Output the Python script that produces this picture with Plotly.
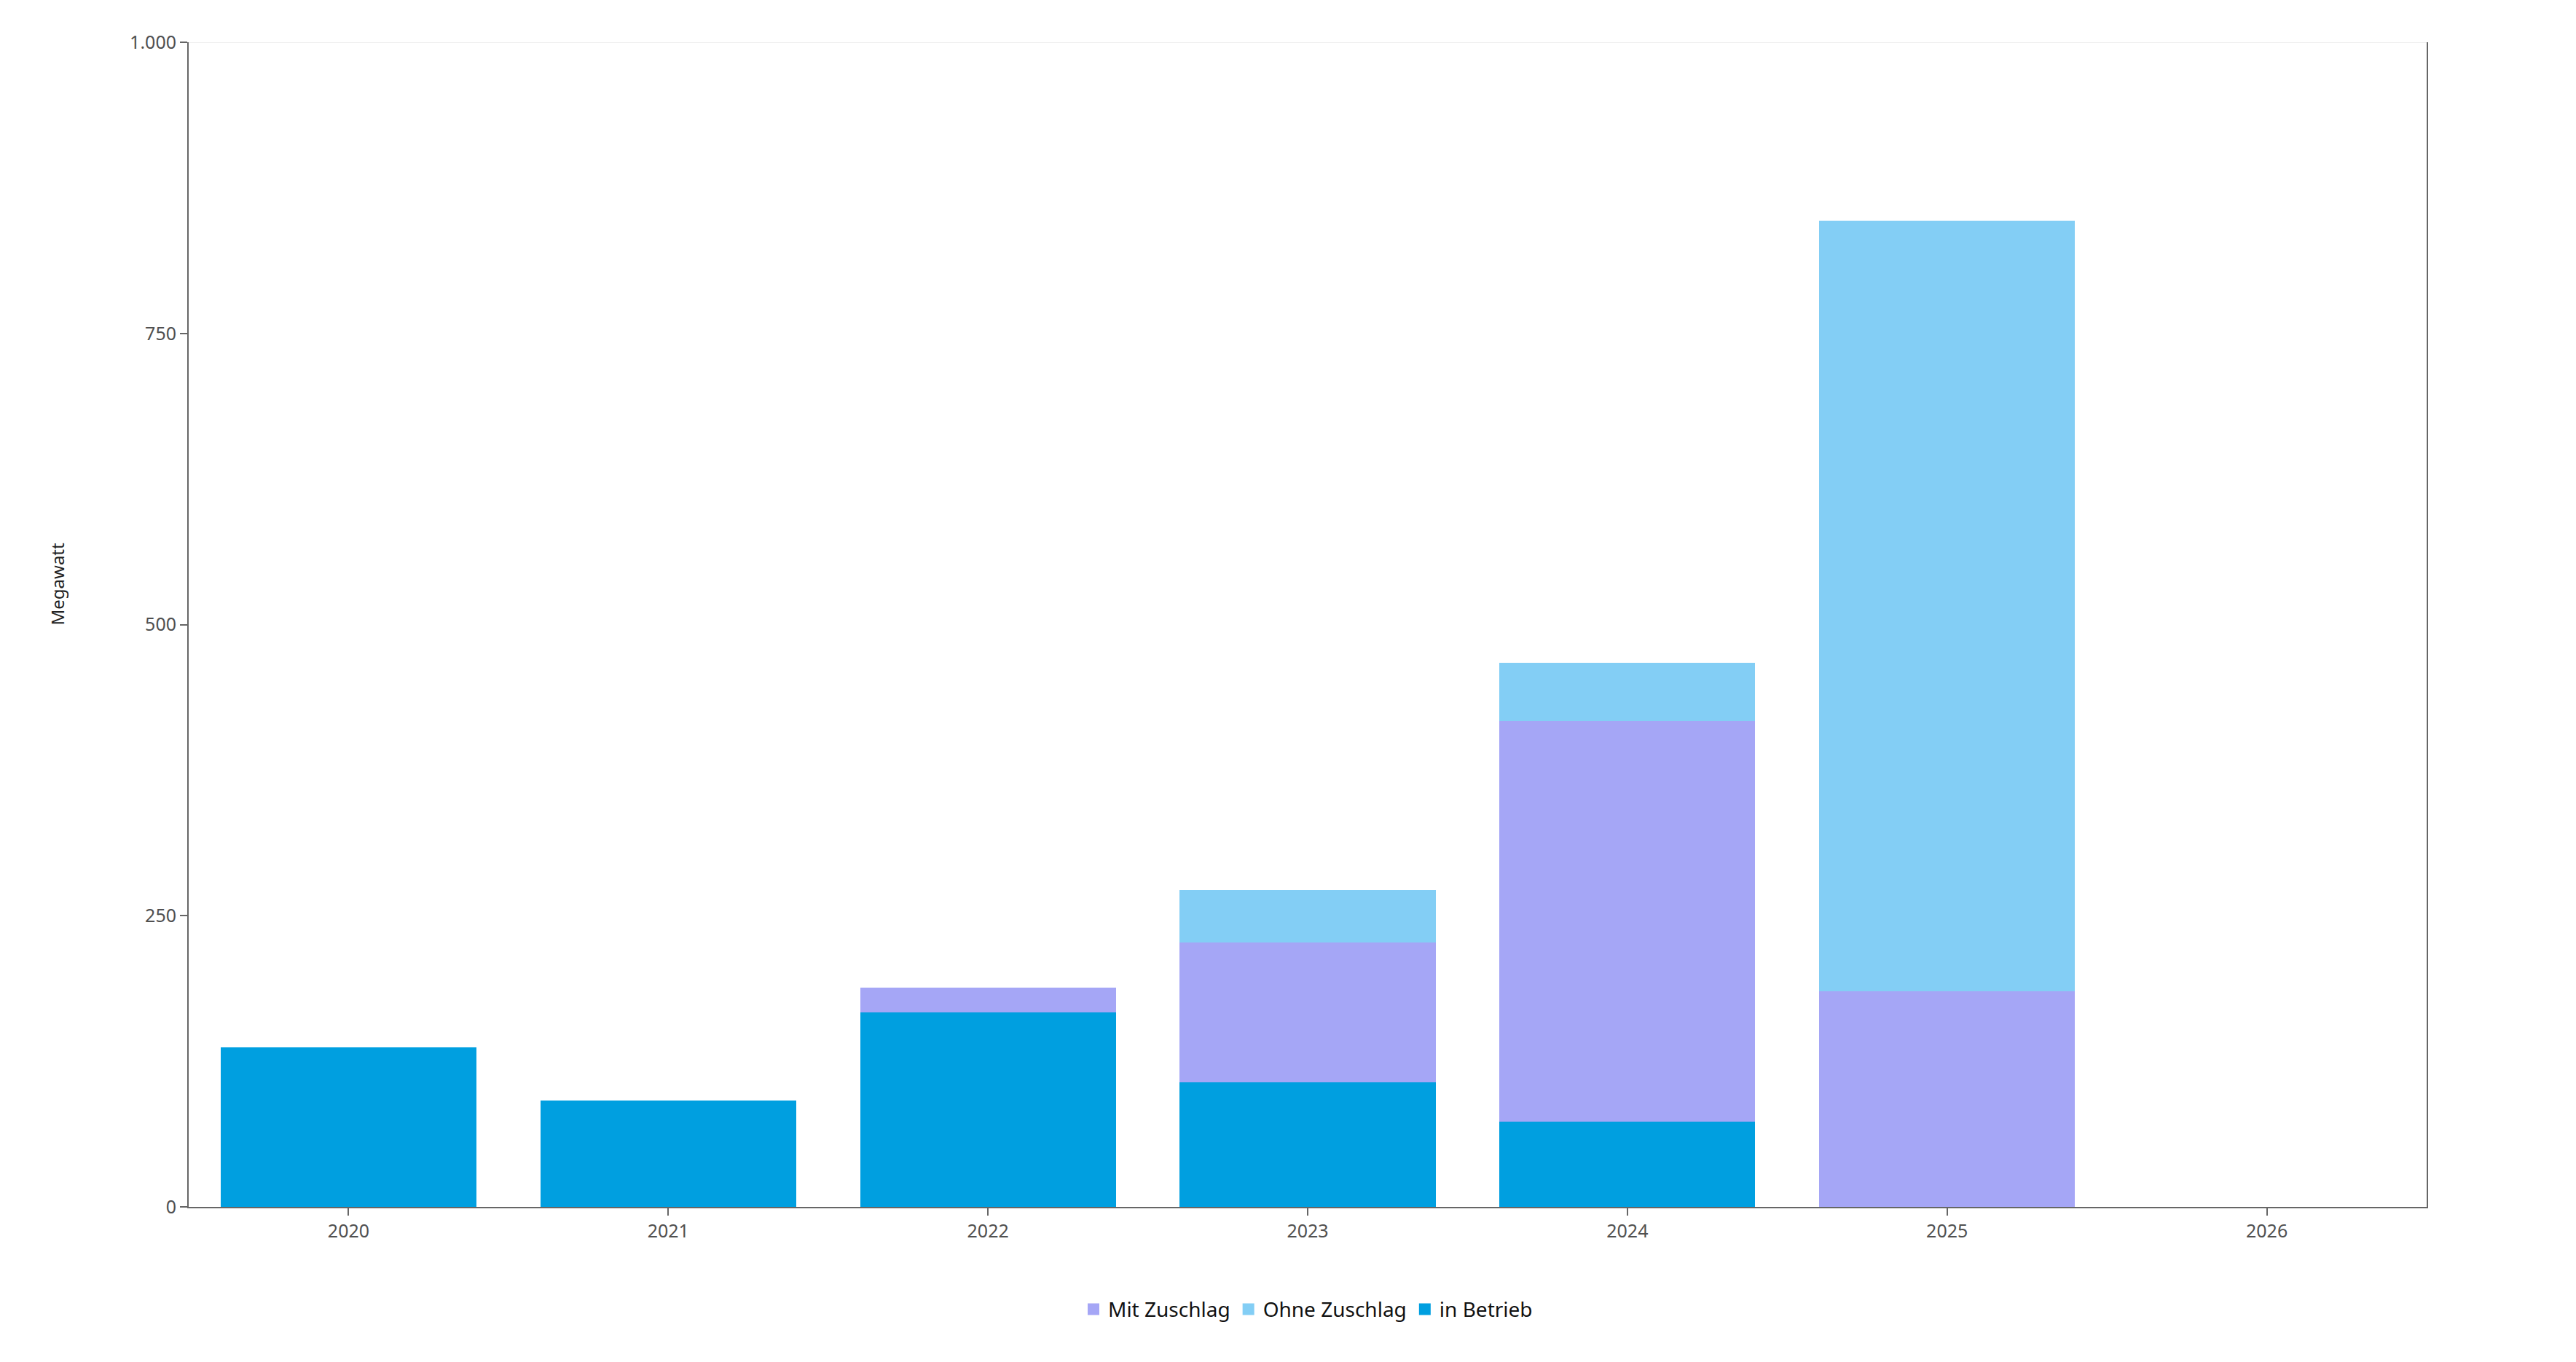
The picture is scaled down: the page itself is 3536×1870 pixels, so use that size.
import plotly.graph_objs as go

# values in megawatt per year
years = ['2020', '2021', '2022', '2023', '2024', '2025', '2026']
in_betrieb = [137, 91, 167, 107, 73, 0, 0]
mit_zuschlag = [0, 0, 21, 120, 344, 185, 0]
ohne_zuschlag = [0, 0, 0, 45, 50, 662, 0]
y_ticks = [0, 250, 500, 750, 1000]

series_names = ['Mit Zuschlag', 'Ohne Zuschlag', 'in Betrieb']
series_colors = ['#A5A6F6', '#83CEF5', '#009FE0']

font_name = 'Segoe UI, Noto Sans, sans-serif'


def make_fig():
    # stacking order: in Betrieb at the bottom, Ohne Zuschlag on top
    trace0 = go.Bar(x=years, y=in_betrieb, name='in Betrieb',
                    marker=dict(color=series_colors[2], line=dict(width=0)),
                    showlegend=False)
    trace1 = go.Bar(x=years, y=mit_zuschlag, name='Mit Zuschlag',
                    marker=dict(color=series_colors[0], line=dict(width=0)),
                    showlegend=False)
    trace2 = go.Bar(x=years, y=ohne_zuschlag, name='Ohne Zuschlag',
                    marker=dict(color=series_colors[1], line=dict(width=0)),
                    showlegend=False)
    data = [trace0, trace1, trace2]

    # legend entries with bigger square swatches
    for name, color in zip(series_names, series_colors):
        data.append(go.Scatter(
            x=[None], y=[None], mode='markers', name=name,
            marker=dict(symbol='square', size=16, color=color),
            showlegend=True
        ))

    layout = go.Layout(
        width=3536,
        height=1870,
        barmode='stack',
        bargap=0.2,
        separators=',.',
        plot_bgcolor='white',
        paper_bgcolor='white',
        font=dict(family=font_name, size=25, color='#505050'),
        margin=dict(l=251, r=213, t=50, b=221),
        legend=dict(
            orientation='h',
            x=0.5, xanchor='center',
            y=-0.088, yanchor='middle',
            font=dict(size=28, color='#111111'),
            itemsizing='trace',
            itemwidth=30,
            traceorder='normal'
        ),
        xaxis=dict(
            type='category',
            showgrid=False,
            showline=True,
            linecolor='#666666',
            linewidth=2,
            ticks='outside',
            ticklen=10,
            tickwidth=2,
            tickcolor='#666666',
            zeroline=False
        ),
        yaxis=dict(
            range=[0, 1000],
            tickvals=y_ticks,
            tickformat=',d',
            showgrid=False,
            showline=True,
            mirror=True,
            linecolor='#666666',
            linewidth=2,
            ticks='outside',
            ticklen=10,
            tickwidth=2,
            tickcolor='#666666',
            zeroline=False
        ),
        shapes=[dict(
            type='line', xref='paper', yref='y',
            x0=0, x1=1, y0=1000, y1=1000,
            line=dict(color='#EEEEEE', width=2)
        )],
        annotations=[dict(
            text='Megawatt',
            xref='paper', yref='paper',
            x=-0.0586, y=0.535,
            xanchor='center', yanchor='middle',
            textangle=-90,
            showarrow=False,
            font=dict(size=24, color='#222222')
        )]
    )
    fig = go.Figure(data=data, layout=layout)
    fig.write_html('out.html')


make_fig()
